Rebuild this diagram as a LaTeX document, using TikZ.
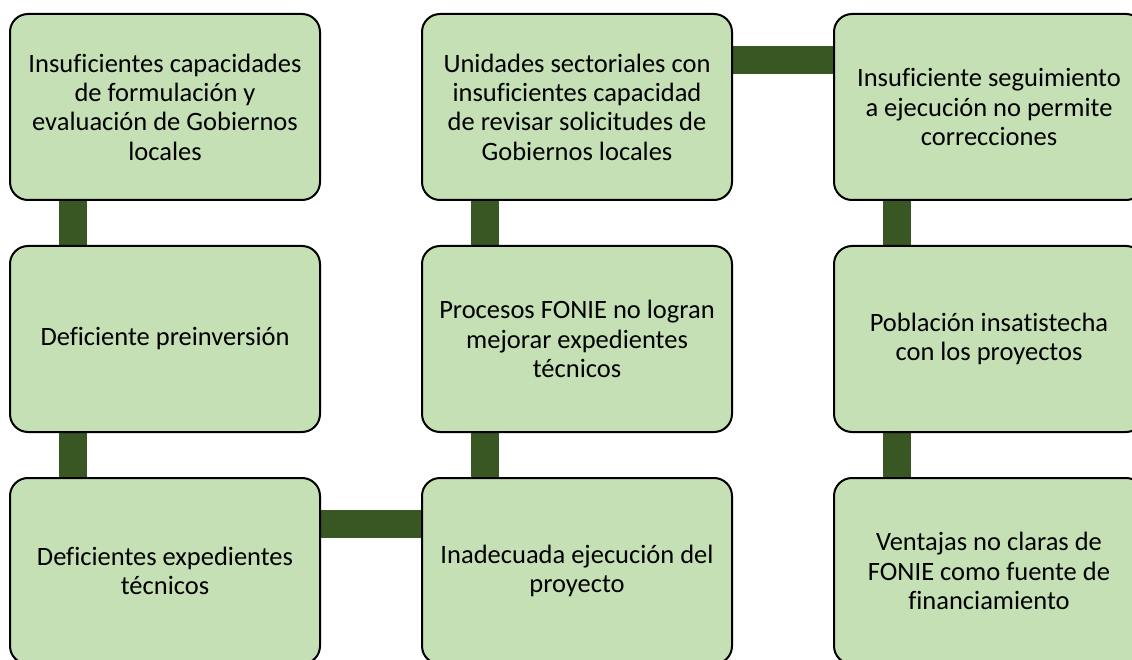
\documentclass[tikz,border=0pt]{standalone}
\usepackage{fontspec}
\setmainfont{Carlito}[Ligatures=NoCommon]
\usetikzlibrary{positioning,backgrounds}
\definecolor{boxgreen}{HTML}{C5E0B4}
\definecolor{bargreen}{HTML}{385723}

\begin{document}
\begin{tikzpicture}[x=1pt,y=1pt,
    caja/.style={draw=black,line width=2pt,fill=boxgreen,rounded corners=18pt,
      minimum width=310pt,minimum height=186pt,inner sep=0pt,outer sep=0pt,
      align=center,font=\fontsize{26.5}{29.3}\selectfont},
    barra/.style={draw=bargreen,line width=28pt},
    node distance=46pt and 102pt]

    \useasboundingbox (0,0) rectangle (1132,-660);
    \clip (0,0) rectangle (1132,-660);

    \node[caja] (a1) at (165,-107) {Insuficientes capacidades\\de formulación y\\evaluación de Gobiernos\\locales};
    \node[caja,below=of a1] (a2) {Deficiente preinversión};
    \node[caja,below=of a2] (a3) {Deficientes expedientes\\técnicos};

    \node[caja,right=of a1] (b1) {Unidades sectoriales con\\insuficientes capacidad\\de revisar solicitudes de\\Gobiernos locales};
    \node[caja,below=of b1] (b2) {Procesos FONIE no logran\\mejorar expedientes\\técnicos};
    \node[caja,below=of b2] (b3) {Inadecuada ejecución del\\proyecto};

    \node[caja,right=of b1] (c1) {Insuficiente seguimiento\\a ejecución no permite\\correcciones};
    \node[caja,below=of c1] (c2) {Población insatistecha\\con los proyectos};
    \node[caja,below=of c2] (c3) {Ventajas no claras de\\FONIE como fuente de\\financiamiento};

    \begin{scope}[on background layer]
    \foreach \i/\j in {a1/a2, a2/a3, b1/b2, b2/b3, c1/c2, c2/c3}
    \draw[barra] ([xshift=63pt]\i.south west) -- ([xshift=63pt]\j.north west);

    \draw[barra] ([yshift=-46pt]a3.north east) -- ([yshift=-46pt]b3.north west);
    \draw[barra] ([yshift=-46pt]b1.north east) -- ([yshift=-46pt]c1.north west);
    \end{scope}

\end{tikzpicture}
\end{document}
